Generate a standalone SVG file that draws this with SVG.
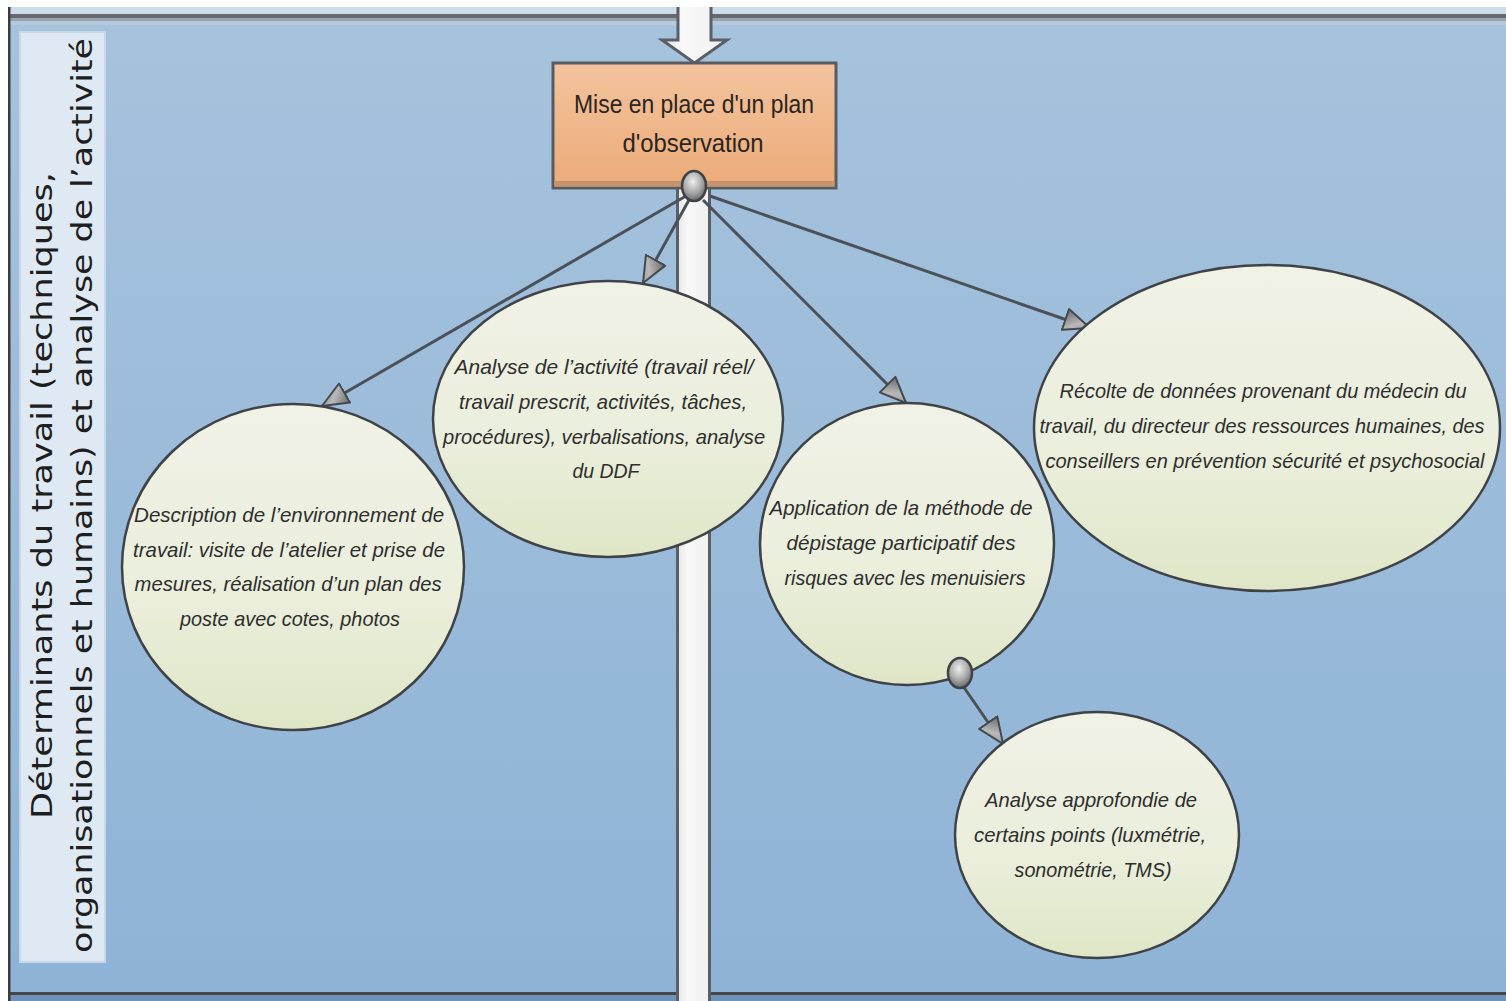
<svg xmlns="http://www.w3.org/2000/svg" width="1506" height="1001" viewBox="0 0 1506 1001">
  <defs>
    <style>
      .lane-title { font-family: "DejaVu Sans", "Liberation Sans", sans-serif; font-size: 29px; fill: #1e1e1e; }
      .box-text { font-family: "Liberation Sans", "Open Sans", sans-serif; font-size: 25px; fill: #2a2520; }
      .node-text { font-family: "Liberation Sans", "Open Sans", sans-serif; font-style: italic; font-size: 21px; fill: #2e2e2e; }
      .node { fill: url(#nodeFill); stroke: #3f4348; stroke-width: 2.5; }
      .link { stroke: #4b5159; stroke-width: 3; fill: none; marker-end: url(#arrow); }
      .hub { fill: url(#hubFill); stroke: #3e4247; stroke-width: 2.5; }
    </style>
    <linearGradient id="panelFill" x1="0" y1="0" x2="0" y2="1">
      <stop offset="0" stop-color="#a6c3dd"/>
      <stop offset="1" stop-color="#8fb3d6"/>
    </linearGradient>
    <linearGradient id="boxFill" x1="0" y1="0" x2="0" y2="1">
      <stop offset="0" stop-color="#f3c39e"/>
      <stop offset="1" stop-color="#ecab78"/>
    </linearGradient>
    <linearGradient id="nodeFill" x1="0" y1="0" x2="0" y2="1">
      <stop offset="0" stop-color="#f0f2e6"/>
      <stop offset="0.6" stop-color="#eaeedb"/>
      <stop offset="1" stop-color="#dfe6c6"/>
    </linearGradient>
    <radialGradient id="hubFill" cx="0.45" cy="0.35" r="0.7">
      <stop offset="0" stop-color="#eeeeee"/>
      <stop offset="0.55" stop-color="#a8a8a8"/>
      <stop offset="1" stop-color="#5a5a5a"/>
    </radialGradient>
    <linearGradient id="headFill" x1="0" y1="0" x2="1" y2="1">
      <stop offset="0" stop-color="#6a6a6a"/>
      <stop offset="0.5" stop-color="#b8b8b8"/>
      <stop offset="1" stop-color="#8a8a8a"/>
    </linearGradient>
    <linearGradient id="barFill" x1="0" y1="0" x2="1" y2="0">
      <stop offset="0" stop-color="#e6e6e6"/>
      <stop offset="0.3" stop-color="#f8f8f8"/>
      <stop offset="1" stop-color="#f0f0f0"/>
    </linearGradient>
    <marker id="arrow" markerUnits="userSpaceOnUse" markerWidth="30" markerHeight="26" refX="27" refY="13" orient="auto">
      <path d="M1,2 L27,13 L1,24 Z" fill="url(#headFill)" stroke="#45494e" stroke-width="2" stroke-linejoin="round"/>
    </marker>
  </defs>

  <!-- frame and swim-lane background -->
  <rect x="0" y="0" width="1506" height="1001" fill="#ffffff"/>
  <rect x="10" y="7" width="1496" height="7" fill="#cddcea"/>
  <rect x="10" y="14" width="1496" height="4" fill="#666a70"/>
  <rect x="10" y="18" width="1496" height="3" fill="#9aa3ab"/>
  <rect x="10" y="21" width="1496" height="4" fill="#b5c8dc"/>
  <rect x="10" y="25" width="1496" height="967" fill="url(#panelFill)"/>
  <rect x="10" y="992" width="1496" height="3" fill="#474747"/>
  <rect x="10" y="995" width="1496" height="6" fill="#6d93b8"/>
  <rect x="8" y="7" width="2.5" height="994" fill="#3c3c3c"/>

  <!-- lane heading -->
  <g id="lane-heading">
    <rect x="20" y="32" width="85" height="930" fill="#dfe9f3" stroke="#c9d8e8" stroke-width="2"/>
    <text class="lane-title" transform="translate(52,495.5) rotate(-90)" text-anchor="middle" textLength="647" lengthAdjust="spacingAndGlyphs">Déterminants du travail (techniques,</text>
    <text class="lane-title" transform="translate(92,495.5) rotate(-90)" text-anchor="middle" textLength="915" lengthAdjust="spacingAndGlyphs">organisationnels et humains) et analyse de l’activité</text>
  </g>

  <!-- main flow arrow passing through the lane -->
  <g id="flow-arrow">
    <polygon points="678,-5 711,-5 711,40 727,40 694.5,63 662,40 678,40" fill="url(#barFill)" stroke="#5a5f66" stroke-width="3" stroke-linejoin="miter"/>
    <rect x="677.5" y="185" width="32" height="820" fill="url(#barFill)" stroke="#5a5f66" stroke-width="3"/>
  </g>
  <rect x="0" y="0" width="1506" height="7" fill="#ffffff"/>

  <!-- connectors -->
  <g id="connectors">
    <line class="link" x1="686" y1="196" x2="322" y2="406"/>
    <line class="link" x1="689" y1="200" x2="643" y2="283"/>
    <line class="link" x1="703" y1="200" x2="906" y2="403"/>
    <line class="link" x1="710" y1="196" x2="1090" y2="328"/>
    <line class="link" x1="963" y1="686" x2="1003" y2="744"/>
  </g>

  <!-- process step -->
  <g id="plan-observation">
    <rect x="553" y="63" width="283" height="125" fill="url(#boxFill)" stroke="#585c62" stroke-width="3"/>
    <rect x="554.5" y="181" width="280" height="5.5" fill="#c4946e"/>
    <text class="box-text" x="694" y="113" text-anchor="middle" textLength="240" lengthAdjust="spacingAndGlyphs">Mise en place d'un plan</text>
    <text class="box-text" x="693" y="152" text-anchor="middle" textLength="141" lengthAdjust="spacingAndGlyphs">d'observation</text>
  </g>
  <ellipse id="hub-plan" class="hub" cx="694" cy="186" rx="12" ry="15"/>

  <!-- activities -->
  <g id="description-environnement">
    <ellipse class="node" cx="293" cy="567" rx="171" ry="163"/>
    <text class="node-text" text-anchor="middle">
      <tspan x="292" y="522" textLength="310" lengthAdjust="spacingAndGlyphs">Description de l’environnement de</tspan>
      <tspan x="292" y="557" textLength="312" lengthAdjust="spacingAndGlyphs">travail: visite de l’atelier et prise de</tspan>
      <tspan x="291" y="591" textLength="307" lengthAdjust="spacingAndGlyphs">mesures, réalisation d’un plan des</tspan>
      <tspan x="290" y="626" textLength="220" lengthAdjust="spacingAndGlyphs">poste avec cotes, photos</tspan>
    </text>
  </g>

  <g id="analyse-activite">
    <ellipse class="node" cx="608" cy="419" rx="175" ry="138"/>
    <text class="node-text" text-anchor="middle">
      <tspan x="607" y="374" textLength="299" lengthAdjust="spacingAndGlyphs">Analyse de l’activité (travail réel/</tspan>
      <tspan x="606" y="409" textLength="288" lengthAdjust="spacingAndGlyphs">travail prescrit, activités, tâches,</tspan>
      <tspan x="607" y="444" textLength="322" lengthAdjust="spacingAndGlyphs">procédures), verbalisations, analyse</tspan>
      <tspan x="606" y="478" textLength="67" lengthAdjust="spacingAndGlyphs">du DDF</tspan>
    </text>
  </g>

  <g id="depistage-participatif">
    <ellipse class="node" cx="907" cy="544" rx="147" ry="141"/>
    <text class="node-text" text-anchor="middle">
      <tspan x="904" y="515" textLength="263" lengthAdjust="spacingAndGlyphs">Application de la méthode de</tspan>
      <tspan x="904" y="550" textLength="229" lengthAdjust="spacingAndGlyphs">dépistage participatif des</tspan>
      <tspan x="905" y="585" textLength="241" lengthAdjust="spacingAndGlyphs">risques avec les menuisiers</tspan>
    </text>
  </g>
  <ellipse id="hub-depistage" class="hub" cx="960" cy="673" rx="12" ry="15"/>

  <g id="recolte-donnees">
    <ellipse class="node" cx="1267" cy="428" rx="233" ry="163"/>
    <text class="node-text" text-anchor="middle">
      <tspan x="1266" y="398" textLength="407" lengthAdjust="spacingAndGlyphs">Récolte de données provenant du médecin du</tspan>
      <tspan x="1265" y="433" textLength="445" lengthAdjust="spacingAndGlyphs">travail, du directeur des ressources humaines, des</tspan>
      <tspan x="1265" y="468" textLength="439" lengthAdjust="spacingAndGlyphs">conseillers en prévention sécurité et psychosocial</tspan>
    </text>
  </g>

  <g id="analyse-approfondie">
    <ellipse class="node" cx="1097" cy="835" rx="142" ry="123"/>
    <text class="node-text" text-anchor="middle">
      <tspan x="1094" y="807" textLength="212" lengthAdjust="spacingAndGlyphs">Analyse approfondie de</tspan>
      <tspan x="1093" y="842" textLength="232" lengthAdjust="spacingAndGlyphs">certains points (luxmétrie,</tspan>
      <tspan x="1093" y="877" textLength="157" lengthAdjust="spacingAndGlyphs">sonométrie, TMS)</tspan>
    </text>
  </g>
</svg>
